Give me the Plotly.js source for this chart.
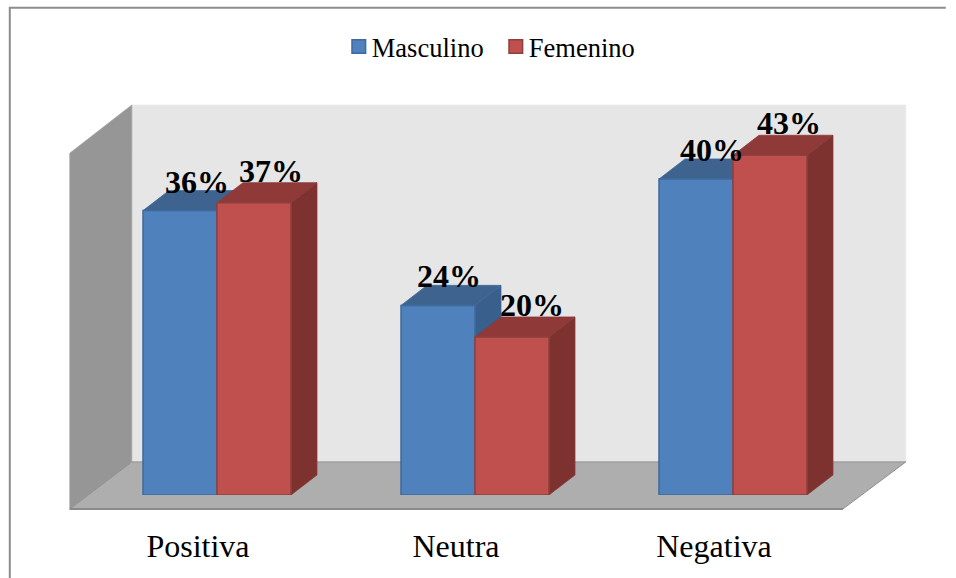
<!DOCTYPE html>
<html><head><meta charset="utf-8">
<script src="https://cdn.plot.ly/plotly-3.0.1.min.js"></script>
<style>html,body{margin:0;padding:0;background:#fff}</style></head>
<body><div id="chart" style="width:956px;height:578px"></div>
<script>
const categories = ["Positiva", "Neutra", "Negativa"];
const masculino = [36, 24, 40];
const femenino = [37, 20, 43];
const seriesNames = ["Masculino", "Femenino"];

// plot-area geometry (the bars' plane)
const L = 88.2, W = 774, B = 495, H = 394, YMAX = 50;
const PX = p => (p - L) / W, PY = p => (B - p) / H;
const DX = 26 / (W / 3), DY = 20 / (H / YMAX);     // bar depth in axis units
const BARW = 74 / (W / 3);

function poly(points, xref, yref, fill, line, lw) {
  return {type: 'path', layer: 'below', xref, yref, fillcolor: fill,
    line: {color: line || fill, width: lw === undefined ? 0.75 : lw},
    path: 'M' + points.map(p => p.join(',')).join('L') + 'Z'};
}
const paperPoly = (pts, fill, line, lw) =>
  poly(pts.map(p => [PX(p[0]), PY(p[1])]), 'paper', 'paper', fill, line, lw);

const shapes = [
  paperPoly([[132,106],[906,106],[906,462],[132,462]], '#e6e6e6', '#e9e9e9'),
  paperPoly([[70,154],[132,106],[132,462],[70,509]], '#969696', '#a0a0a0'),
  paperPoly([[70,509],[132,462],[906,462],[843,509]], '#aeaeae', '#8f8f8f', 1)
];
function box3d(cx, v, top, side, edge) {
  const x0 = cx - BARW, x1 = cx;
  return [
    poly([[x0,v],[x0+DX,v+DY],[x1+DX,v+DY],[x1,v]], 'x', 'y', top, edge),
    poly([[x1,0],[x1+DX,DY],[x1+DX,v+DY],[x1,v]], 'x', 'y', side, edge)
  ];
}
categories.forEach((c, i) => {
  shapes.push(...box3d(i, masculino[i], '#3e638f', '#395f8c', '#3e6a9c'));
  shapes.push(...box3d(i + BARW, femenino[i], '#8f3a38', '#7d3230', '#8a3a38'));
});
// floor front edge and outer frame
shapes.push({type:'line', layer:'below', xref:'paper', yref:'paper', x0:PX(70), x1:PX(843), y0:PY(509), y1:PY(509), line:{color:'#8a8a8a', width:2}});
shapes.push({type:'path', layer:'below', xref:'paper', yref:'paper',
  path:`M${PX(10)},${PY(590)}L${PX(10)},${PY(9)}L${PX(946)},${PY(9)}`, line:{color:'#8c8c8c', width:2}});

const labelFont = {family:'"Liberation Serif", serif', size:32, color:'#000'};
const maleShift = [17, 11, 16], femaleShift = [17, 20, 19];
const annotations = [];
categories.forEach((c, i) => {
  annotations.push({x:i - BARW/2, y:masculino[i], text:'<b>'+masculino[i]+'%</b>', showarrow:false, xanchor:'center', yanchor:'middle', xshift:maleShift[i], yshift:29, font:labelFont});
  annotations.push({x:i + BARW/2, y:femenino[i], text:'<b>'+femenino[i]+'%</b>', showarrow:false, xanchor:'center', yanchor:'middle', xshift:femaleShift[i], yshift:32, font:labelFont});
});

const bar = (name, y, color, edge) => ({type:'bar', name, x:categories.map((c,i)=>i), y,
  marker:{color, line:{color:edge, width:1.5}}, hoverinfo:'x+y'});

Plotly.newPlot('chart', [
  bar(seriesNames[0], masculino, '#4f81bd', '#3e6a9c'),
  bar(seriesNames[1], femenino, '#c0504d', '#8f3f3d')
], {
  width:956, height:578, autosize:false, showlegend:true,
  margin:{l:L, r:956-L-W, t:578-B-H, b:578-B, pad:0},
  paper_bgcolor:'#fff', plot_bgcolor:'rgba(0,0,0,0)',
  barmode:'group', bargap:1-2*BARW, bargroupgap:0,
  font:{family:'"Liberation Serif", serif', color:'#000'},
  xaxis:{range:[-0.5,2.5], tickmode:'array', tickvals:categories.map((c,i)=>i), ticktext:categories,
    showgrid:false, zeroline:false, showline:false, ticks:'', ticklabelshift:-19, ticklabelstandoff:29,
    tickfont:{family:'"Liberation Serif", serif', size:32, color:'#000'}},
  yaxis:{range:[0,YMAX], visible:false, showgrid:false, zeroline:false},
  legend:{orientation:'h', x:PX(332), xanchor:'left', y:PY(24), yanchor:'top', bgcolor:'rgba(0,0,0,0)', borderwidth:0,
    font:{family:'"Liberation Serif", serif', size:26.5, color:'#000'}, entrywidthmode:'pixels', entrywidth:112},
  shapes, annotations
}, {displayModeBar:false, staticPlot:true}).then(gd => {
  gd.querySelectorAll('.legend .legendsymbols').forEach(s => s.setAttribute('transform','translate(7,0)'));
  gd.querySelectorAll('.legend .legendpoints path').forEach(p => p.setAttribute('d','M6.8,6.8H-6.8V-6.8H6.8Z'));
});
</script></body></html>
